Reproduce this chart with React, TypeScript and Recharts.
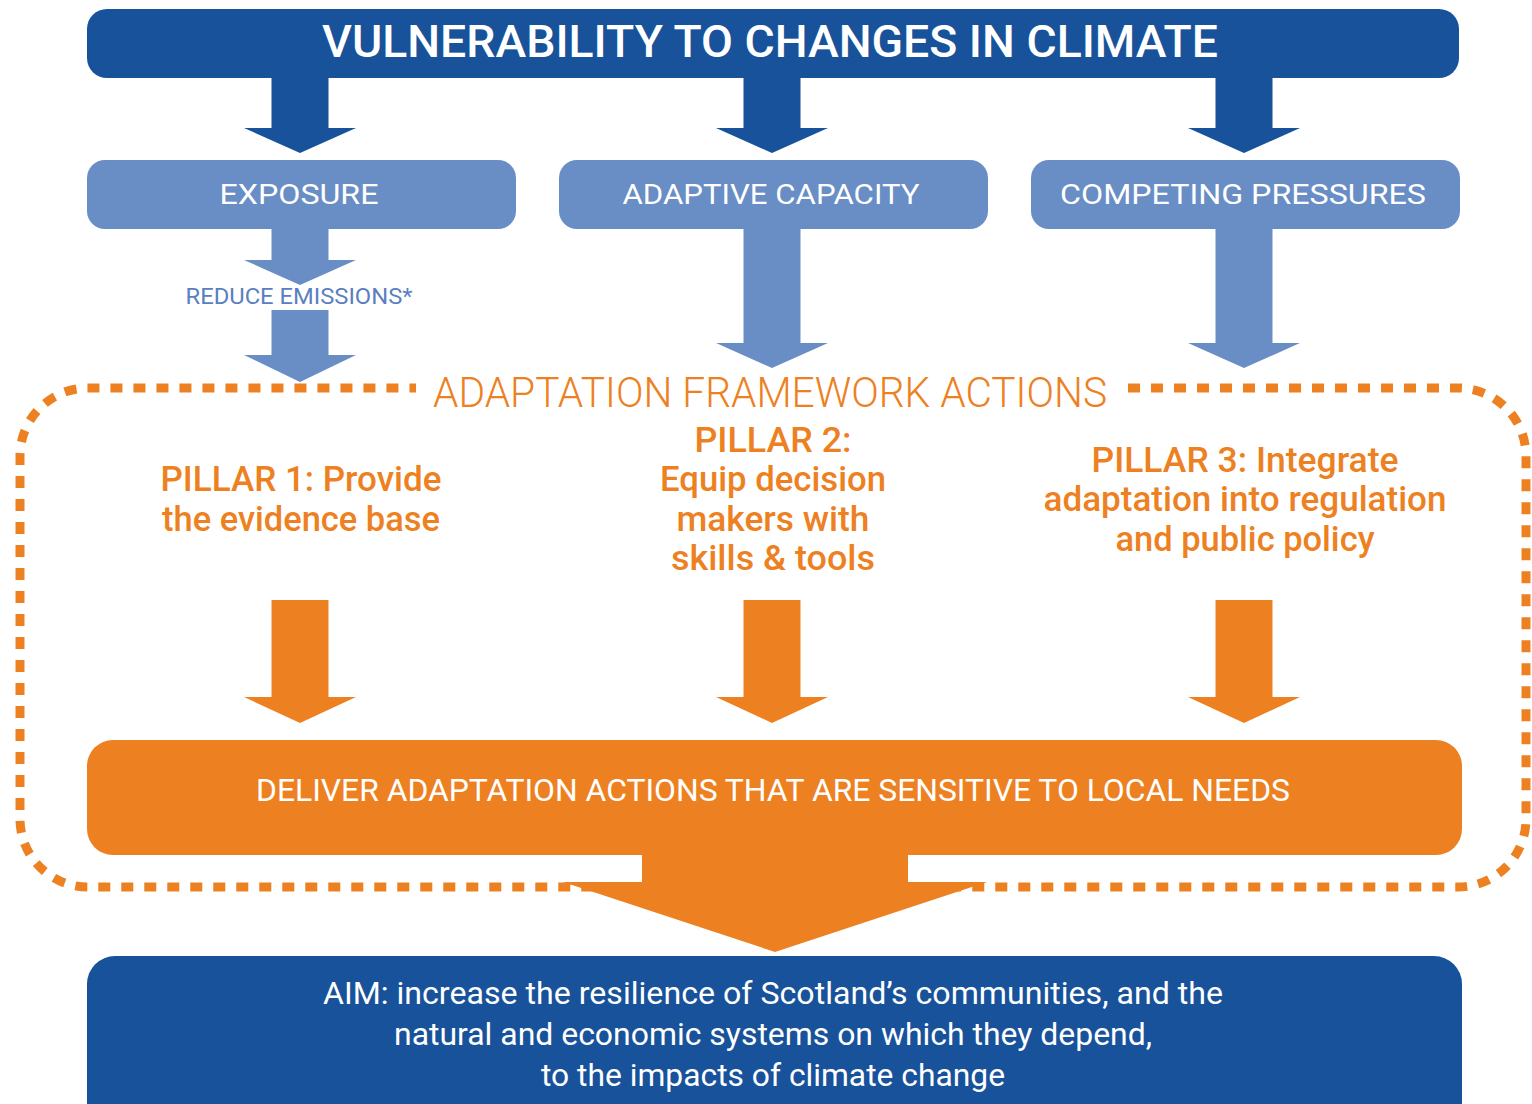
import React from "react";
import { ScatterChart, Scatter, XAxis, YAxis } from "recharts";

// diagram content
const COLUMNS = [0, 1, 2];
const HEADER = "VULNERABILITY TO CHANGES IN CLIMATE";
const FACTORS = ["EXPOSURE", "ADAPTIVE CAPACITY", "COMPETING PRESSURES"];
const EXPOSURE_NOTE = "REDUCE EMISSIONS*";
const FRAMEWORK_TITLE = "ADAPTATION FRAMEWORK ACTIONS";
const PILLARS = [
  ["PILLAR 1: Provide", "the evidence base"],
  ["PILLAR 2:", "Equip decision", "makers with", "skills & tools"],
  ["PILLAR 3: Integrate", "adaptation into regulation", "and public policy"]
];
const DELIVERY = "DELIVER ADAPTATION ACTIONS THAT ARE SENSITIVE TO LOCAL NEEDS";
const AIM_LINES = [
  "AIM: increase the resilience of Scotland’s communities, and the",
  "natural and economic systems on which they depend,",
  "to the impacts of climate change"
];

// styles / layout
const W = 1532;
const H = 1104;
const DARK = "#18529a";
const MID = "#698dc5";
const ORANGE = "#ed8122";
const NOTE = "#5a80c0";
const FONT = "Roboto, 'DejaVu Sans', sans-serif";
const COL_X0 = 301;
const COL_STEP = 472;

// rendered widths of text lines (px), so the condensed face fits like the original
const TEXT_WIDTH: Record<string, number> = {
  [HEADER]: 896,
  EXPOSURE: 159,
  "ADAPTIVE CAPACITY": 297,
  "COMPETING PRESSURES": 366,
  [EXPOSURE_NOTE]: 227,
  [FRAMEWORK_TITLE]: 674,
  "PILLAR 1: Provide": 281,
  "the evidence base": 278,
  "PILLAR 2:": 157,
  "Equip decision": 226,
  "makers with": 193,
  "skills & tools": 204,
  "PILLAR 3: Integrate": 307,
  "adaptation into regulation": 403,
  "and public policy": 259,
  [DELIVERY]: 1034,
  [AIM_LINES[0]]: 900,
  [AIM_LINES[1]]: 758,
  [AIM_LINES[2]]: 464
};

const Label = ({ x, y, text, size, weight = 400, fill = "#fff" }: any) => (
  <text
    x={x}
    y={y}
    textAnchor="middle"
    fontFamily={FONT}
    fontSize={size}
    fontWeight={weight}
    fill={fill}
    textLength={TEXT_WIDTH[text]}
    lengthAdjust="spacingAndGlyphs"
  >
    {text}
  </text>
);

const arrowPath = (cx: number, top: number, len: number, headLen: number, shaft: number, head: number) => {
  const hy = top + len;
  return `M${cx - shaft / 2},${top} L${cx + shaft / 2},${top} L${cx + shaft / 2},${hy} L${cx + head / 2},${hy} L${cx},${hy + headLen} L${cx - head / 2},${hy} L${cx - shaft / 2},${hy} Z`;
};

// tables for the scatter layers
const headerData = [{ col: 1, y: 43.5, text: HEADER }];
const darkArrows = COLUMNS.map((col) => ({ col, y: 77, len: 51, headLen: 25 }));
const factorData = FACTORS.map((text, col) => ({ col, y: 194.5, text }));
const midArrows = [
  { col: 0, y: 228, len: 32, headLen: 25 },
  { col: 0, y: 310, len: 45, headLen: 27 },
  { col: 1, y: 228, len: 115, headLen: 25 },
  { col: 2, y: 228, len: 115, headLen: 25 }
];
const noteData = [{ col: 0, y: 304, text: EXPOSURE_NOTE }];
const frameData = [{ col: 1, y: 388 }];
const titleData = [{ col: 1, y: 407, text: FRAMEWORK_TITLE }];
const pillarData = PILLARS.flatMap((lines, col) =>
  lines.map((text, i) => ({ col, y: 511 + (i - (lines.length - 1) / 2) * 39.5, text }))
);
const orangeArrows = COLUMNS.map((col) => ({ col, y: 600, len: 97, headLen: 26 }));
const deliveryData = [{ col: 1, y: 797, text: DELIVERY }];
const bigArrow = [{ col: 1, y: 850, len: 32, headLen: 70 }];
const aimBox = [{ col: 1, y: 956 }];
const aimData = AIM_LINES.map((text, i) => ({ col: 1, y: 1004 + i * 41, text }));

const DottedFrame = () => {
  const l = 20, r = 1526, t = 388, b = 887, rad = 68;
  const d = `M1128,${t} L${r - rad},${t} A${rad},${rad} 0 0 1 ${r},${t + rad} L${r},${b - rad} A${rad},${rad} 0 0 1 ${r - rad},${b} L${l + rad},${b} A${rad},${rad} 0 0 1 ${l},${b - rad} L${l},${t + rad} A${rad},${rad} 0 0 1 ${l + rad},${t} L416,${t}`;
  return <path d={d} fill="none" stroke={ORANGE} strokeWidth={9} strokeDasharray="12 11" />;
};

export default function App() {
  return (
    <div style={{ position: "absolute", left: 0, top: 0, background: "#fff" }}>
      <ScatterChart width={W} height={H} margin={{ top: 0, right: 0, bottom: 0, left: 0 }}>
        <XAxis
          type="number"
          dataKey="col"
          domain={[-COL_X0 / COL_STEP, (W - COL_X0) / COL_STEP]}
          hide
        />
        <YAxis type="number" dataKey="y" domain={[0, H]} reversed hide />

        {/* orange dotted frame round the actions */}
        <Scatter data={frameData} isAnimationActive={false} shape={() => <DottedFrame />} />

        <Scatter
          data={headerData}
          isAnimationActive={false}
          shape={(p: any) => (
            <g>
              <rect x={p.cx - 686} y={p.cy - 34.5} width={1372} height={69} rx={20} fill={DARK} />
              <Label x={p.cx - 3} y={p.cy + 13} text={p.payload.text} size={45} weight={500} />
            </g>
          )}
        />
        <Scatter
          data={darkArrows}
          isAnimationActive={false}
          shape={(p: any) => (
            <path d={arrowPath(p.cx - 1, p.cy, p.payload.len, p.payload.headLen, 57, 112)} fill={DARK} />
          )}
        />
        <Scatter
          data={factorData}
          isAnimationActive={false}
          shape={(p: any) => (
            <g>
              <rect x={p.cx - 214} y={p.cy - 34.5} width={429} height={69} rx={18} fill={MID} />
              <Label x={p.cx - 2} y={p.cy + 9.5} text={p.payload.text} size={28} />
            </g>
          )}
        />
        <Scatter
          data={midArrows}
          isAnimationActive={false}
          shape={(p: any) => (
            <path d={arrowPath(p.cx - 1, p.cy, p.payload.len, p.payload.headLen, 57, 112)} fill={MID} />
          )}
        />
        <Scatter
          data={noteData}
          isAnimationActive={false}
          shape={(p: any) => <Label x={p.cx - 2} y={p.cy} text={p.payload.text} size={22} fill={NOTE} />}
        />
        <Scatter
          data={titleData}
          isAnimationActive={false}
          shape={(p: any) => (
            <Label x={p.cx - 3} y={p.cy} text={p.payload.text} size={42} weight={300} fill={ORANGE} />
          )}
        />
        <Scatter
          data={pillarData}
          isAnimationActive={false}
          shape={(p: any) => (
            <Label x={p.cx} y={p.cy} text={p.payload.text} size={35} weight={500} fill={ORANGE} />
          )}
        />
        <Scatter
          data={orangeArrows}
          isAnimationActive={false}
          shape={(p: any) => (
            <path d={arrowPath(p.cx - 1, p.cy, p.payload.len, p.payload.headLen, 57, 112)} fill={ORANGE} />
          )}
        />
        <Scatter
          data={deliveryData}
          isAnimationActive={false}
          shape={(p: any) => (
            <g>
              <rect x={p.cx - 686} y={p.cy - 57} width={1375} height={115} rx={26} fill={ORANGE} />
              <Label x={p.cx} y={p.cy + 4} text={p.payload.text} size={32} />
            </g>
          )}
        />
        <Scatter
          data={bigArrow}
          isAnimationActive={false}
          shape={(p: any) => (
            <path d={arrowPath(p.cx + 2, p.cy, p.payload.len, p.payload.headLen, 266, 424)} fill={ORANGE} />
          )}
        />
        <Scatter
          data={aimBox}
          isAnimationActive={false}
          shape={(p: any) => (
            <rect x={p.cx - 686} y={p.cy} width={1375} height={190} rx={28} fill={DARK} />
          )}
        />
        <Scatter
          data={aimData}
          isAnimationActive={false}
          shape={(p: any) => <Label x={p.cx} y={p.cy} text={p.payload.text} size={31} />}
        />
      </ScatterChart>
    </div>
  );
}
